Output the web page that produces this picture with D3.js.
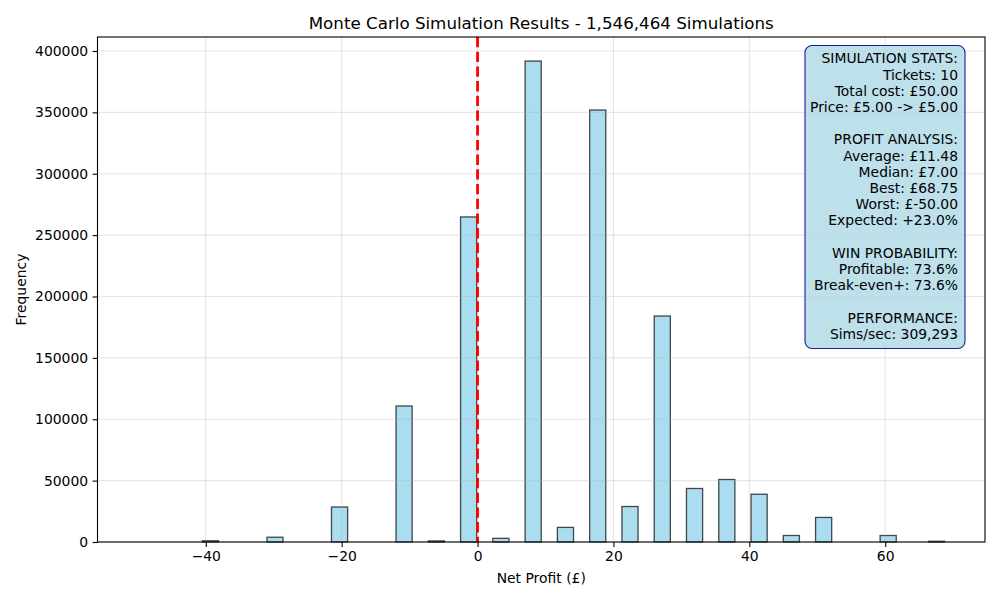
<!DOCTYPE html>
<html>
<head>
<meta charset="utf-8">
<script src="https://cdn.jsdelivr.net/npm/d3@7"></script>
<style>
body { margin: 0; background: #fff; }
svg { display: block; font-family: "DejaVu Sans", sans-serif; }
</style>
</head>
<body>
<script>
var w = 1000;
var h = 600;

// histogram: 50 bins from -50 to 68.75
var binStart = -50;
var binEnd = 68.75;
var counts = [
    0, 0, 0, 0, 1000, 0, 0, 0, 3900, 0,
    0, 0, 28500, 0, 0, 0, 110800, 0, 900, 0,
    264800, 0, 3000, 0, 391800, 0, 11900, 0, 351900, 0,
    28900, 0, 184100, 0, 43600, 0, 50900, 0, 38900, 0,
    5300, 0, 20000, 0, 0, 0, 5300, 0, 0, 600
];
var xTicks = [-40, -20, 0, 20, 40, 60];
var yTicks = [0, 50000, 100000, 150000, 200000, 250000, 300000, 350000, 400000];
var statsLines = [
    "SIMULATION STATS:",
    "Tickets: 10",
    "Total cost: £50.00",
    "Price: £5.00 -> £5.00",
    "",
    "PROFIT ANALYSIS:",
    "Average: £11.48",
    "Median: £7.00",
    "Best: £68.75",
    "Worst: £-50.00",
    "Expected: +23.0%",
    "",
    "WIN PROBABILITY:",
    "Profitable: 73.6%",
    "Break-even+: 73.6%",
    "",
    "PERFORMANCE:",
    "Sims/sec: 309,293"
];
var breakEven = 0;
var title = "Monte Carlo Simulation Results - 1,546,464 Simulations";

var m = {left: 97.5, right: 15, top: 37, bottom: 58};
var binW = (binEnd - binStart) / counts.length;
var bins = counts.map(function(c, i) {
    return {x0: binStart + i * binW, x1: binStart + (i + 1) * binW, n: c};
});

var pad = (binEnd - binStart) * 0.05;
var x = d3.scaleLinear()
    .domain([binStart - pad, binEnd + pad])
    .range([m.left, w - m.right]);
var y = d3.scaleLinear()
    .domain([0, d3.max(counts) * 1.05])
    .range([h - m.bottom, m.top]);

var svg = d3.select("body").append("svg")
    .attr("width", w)
    .attr("height", h);

svg.selectAll("rect.bar").data(bins).enter()
    .append("rect")
    .attr("class", "bar")
    .attr("x", function(d) { return x(d.x0); })
    .attr("y", function(d) { return y(d.n); })
    .attr("width", function(d) { return x(d.x1) - x(d.x0); })
    .attr("height", function(d) { return y(0) - y(d.n); })
    .attr("fill", "#87ceeb")
    .attr("fill-opacity", 0.7)
    .attr("stroke", "#000")
    .attr("stroke-opacity", 0.7)
    .attr("stroke-width", 1.3);

// grid (drawn over bars, faint)
var grid = svg.append("g").attr("stroke", "#b0b0b0").attr("stroke-opacity", 0.3).attr("stroke-width", 1.1);
grid.selectAll("line.gx").data(xTicks).enter().append("line")
    .attr("x1", function(d) { return x(d); }).attr("x2", function(d) { return x(d); })
    .attr("y1", m.top).attr("y2", h - m.bottom);
grid.selectAll("line.gy").data(yTicks).enter().append("line")
    .attr("y1", function(d) { return y(d); }).attr("y2", function(d) { return y(d); })
    .attr("x1", m.left).attr("x2", w - m.right);

svg.append("line")
    .attr("x1", x(breakEven)).attr("x2", x(breakEven))
    .attr("y1", m.top).attr("y2", h - m.bottom)
    .attr("stroke", "red")
    .attr("stroke-width", 2.8)
    .attr("stroke-dasharray", "10.3,4.4");

// axes
var xAxis = svg.append("g")
    .attr("transform", "translate(0," + (h - m.bottom) + ")")
    .call(d3.axisBottom(x).tickValues(xTicks).tickSize(4.9).tickPadding(4.5)
        .tickFormat(function(d) { return d < 0 ? "\u2212" + Math.abs(d) : d; }));
var yAxis = svg.append("g")
    .attr("transform", "translate(" + m.left + ",0)")
    .call(d3.axisLeft(y).tickValues(yTicks).tickSize(4.9).tickPadding(4.5).tickFormat(d3.format("d")));
[xAxis, yAxis].forEach(function(a) {
    a.select(".domain").remove();
    a.selectAll("text").attr("font-size", "13.9px").attr("fill", "#000").attr("font-family", "DejaVu Sans");
    a.selectAll("line").attr("stroke", "#000").attr("stroke-width", 1.1);
});

svg.append("rect")
    .attr("x", m.left).attr("y", m.top)
    .attr("width", w - m.left - m.right).attr("height", h - m.top - m.bottom)
    .attr("fill", "none").attr("stroke", "#000").attr("stroke-width", 1.1);

svg.append("text")
    .attr("x", (m.left + w - m.right) / 2).attr("y", 29)
    .attr("text-anchor", "middle").attr("font-size", "16.7px")
    .text(title);
svg.append("text")
    .attr("x", (m.left + w - m.right) / 2).attr("y", 583)
    .attr("text-anchor", "middle").attr("font-size", "13.9px")
    .text("Net Profit (£)");
svg.append("text")
    .attr("transform", "translate(26," + ((m.top + h - m.bottom) / 2) + ") rotate(-90)")
    .attr("text-anchor", "middle").attr("font-size", "13.9px")
    .text("Frequency");

// stats box
var box = svg.append("g");
box.append("rect")
    .attr("x", 805).attr("y", 45.5)
    .attr("width", 160).attr("height", 303)
    .attr("rx", 7).attr("ry", 7)
    .attr("fill", "#add8e6").attr("fill-opacity", 0.8)
    .attr("stroke", "#1c1c99").attr("stroke-width", 1.1);
box.selectAll("text").data(statsLines).enter().append("text")
    .attr("x", 958)
    .attr("y", function(d, i) { return 63.3 + i * 16.2; })
    .attr("text-anchor", "end")
    .attr("font-size", "13.9px")
    .text(function(d) { return d; });
</script>
</body>
</html>
